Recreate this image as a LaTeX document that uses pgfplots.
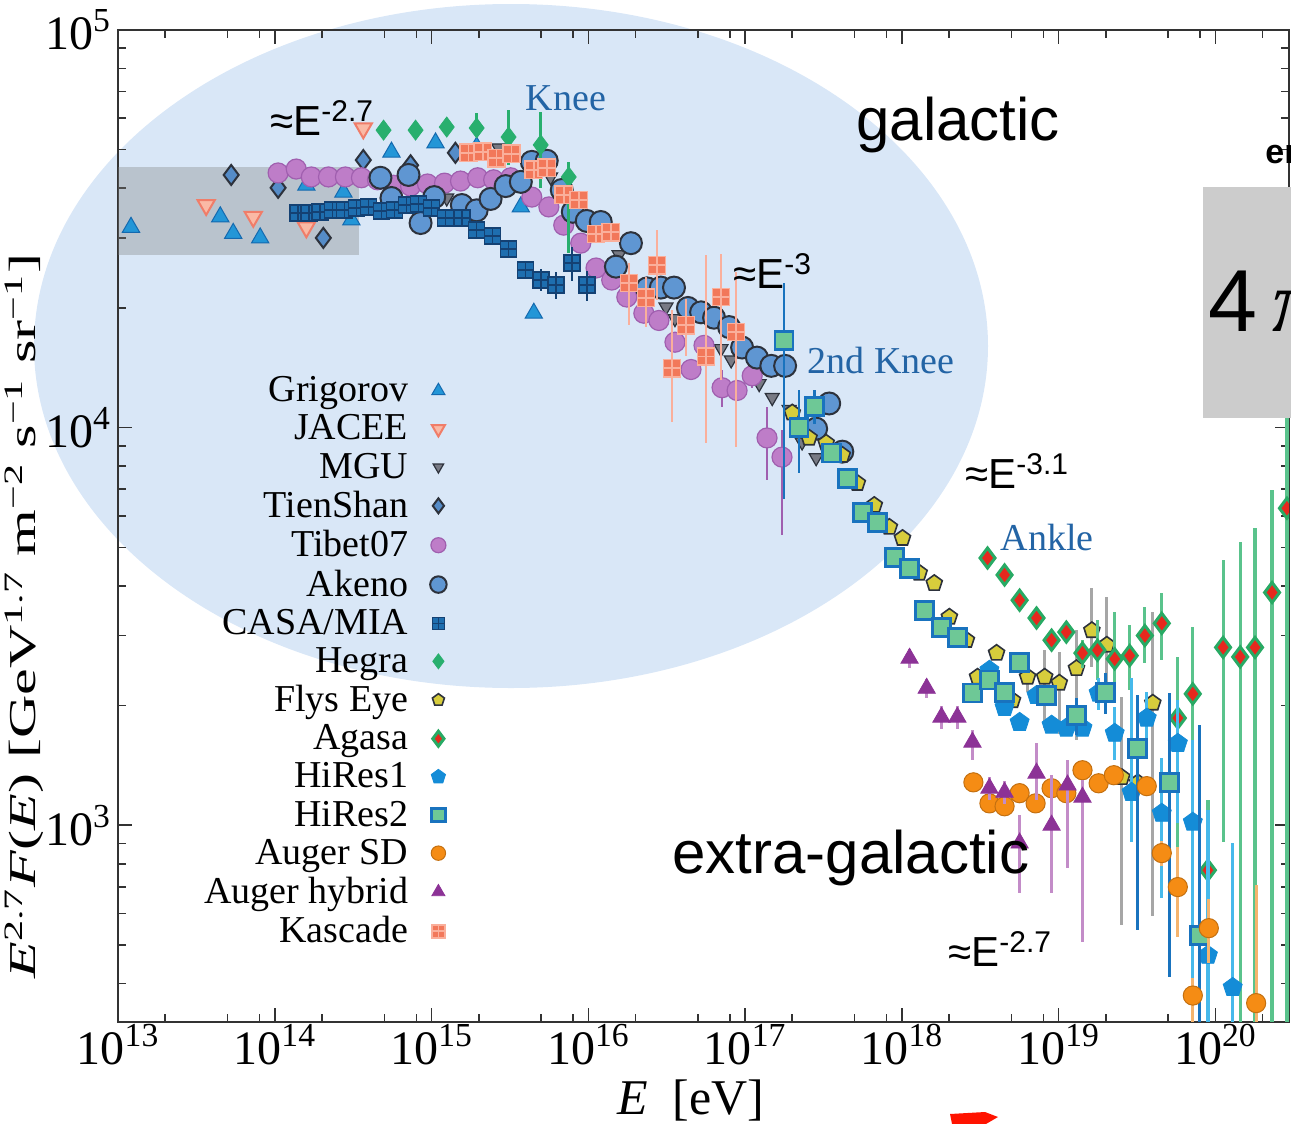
\documentclass[border=0pt]{standalone}
\usepackage{fontspec}
\setmainfont{Liberation Serif}
\newfontfamily\hv{Liberation Sans}
\usepackage{pgfplots}
\pgfplotsset{compat=1.18}

\definecolor{ellblue}{RGB}{217,231,247}
\definecolor{kneeblue}{RGB}{35,100,165}
\definecolor{cGri}{RGB}{35,150,215}
\definecolor{cGriD}{RGB}{20,105,175}
\definecolor{cJac}{RGB}{240,125,105}
\definecolor{cJacF}{RGB}{250,185,165}
\definecolor{cMgu}{RGB}{120,122,132}
\definecolor{cDark}{RGB}{45,50,60}
\definecolor{cTien}{RGB}{85,140,200}
\definecolor{cTib}{RGB}{190,125,200}
\definecolor{cTibD}{RGB}{160,95,175}
\definecolor{cAke}{RGB}{95,150,210}
\definecolor{cCasa}{RGB}{30,110,175}
\definecolor{cCasaD}{RGB}{20,65,115}
\definecolor{cHeg}{RGB}{40,175,110}
\definecolor{cFly}{RGB}{215,205,60}
\definecolor{cAgaR}{RGB}{230,40,30}
\definecolor{cAgaG}{RGB}{40,170,100}
\definecolor{cAgaBar}{RGB}{90,195,140}
\definecolor{cHr1}{RGB}{20,140,215}
\definecolor{cHr1Bar}{RGB}{70,185,235}
\definecolor{cHr2F}{RGB}{110,200,150}
\definecolor{cHr2}{RGB}{25,115,190}
\definecolor{cAsd}{RGB}{245,140,20}
\definecolor{cAsdBar}{RGB}{245,180,110}
\definecolor{cAhy}{RGB}{140,50,150}
\definecolor{cAhyBar}{RGB}{195,140,200}
\definecolor{cKas}{RGB}{242,120,90}
\definecolor{cKasL}{RGB}{250,175,155}

\pgfdeclareplotmark{gridsq}{%
  \pgfpathrectangle{\pgfpoint{-\pgfplotmarksize}{-\pgfplotmarksize}}{\pgfpoint{2\pgfplotmarksize}{2\pgfplotmarksize}}%
  \pgfusepath{fill,stroke}%
  \pgfpathmoveto{\pgfpoint{0pt}{-\pgfplotmarksize}}%
  \pgfpathlineto{\pgfpoint{0pt}{\pgfplotmarksize}}%
  \pgfpathmoveto{\pgfpoint{-\pgfplotmarksize}{0pt}}%
  \pgfpathlineto{\pgfpoint{\pgfplotmarksize}{0pt}}%
  \pgfusepath{stroke}%
}

\begin{document}
\begin{tikzpicture}
\begin{scope}[x=0.5pt,y=-0.5pt]
\path (0,0) rectangle (1291,1124);
\fill[ellblue] (511,346) ellipse [x radius=477, y radius=342];
\end{scope}

\begin{axis}[
  at={(59pt,-511pt)}, anchor=south west,
  scale only axis, width=585.5pt, height=496pt,
  xmode=log, ymode=log,
  xmin=1e13, xmax=2.95e20, ymin=320, ymax=1e5,
  clip marker paths=true, clip bounding box=upper bound,
  axis line style={line width=1pt, black!80},
  every tick/.style={line width=0.8pt, black!80},
  tick align=inside,
  major tick length=7pt, minor tick length=4pt,
  xtick={1e13,1e14,1e15,1e16,1e17,1e18,1e19,1e20},
  xticklabels={10\textsuperscript{13},10\textsuperscript{14},10\textsuperscript{15},10\textsuperscript{16},10\textsuperscript{17},10\textsuperscript{18},10\textsuperscript{19},10\textsuperscript{20}},
  minor xtick={2e13,5e13,8e13,2e14,5e14,8e14,2e15,5e15,8e15,2e16,5e16,8e16,2e17,5e17,8e17,2e18,5e18,8e18,2e19,5e19,8e19,2e20},
  ytick={1e3,1e4,1e5},
  yticklabels={10\textsuperscript{3},10\textsuperscript{4},10\textsuperscript{5}},
  minor ytick={400,500,600,700,800,900,2000,3000,4000,5000,6000,7000,8000,9000,20000,30000,40000,50000,60000,70000,80000,90000},
  tick label style={font=\fontsize{24}{24}\selectfont},
  xticklabel style={inner sep=1pt},
  legend style={at={(0.2861,0.659)}, anchor=north east, draw=none, fill=none,
    font=\fontsize{19}{19}\selectfont, row sep=1.0pt,
    /tikz/every odd column/.append style={column sep=9pt}},
  legend cell align=right, legend plot pos=right,
  legend image post style={scale=0.75},
]
\fill[gray, opacity=0.35] (axis cs:1e13,27200) rectangle (axis cs:3.42e14,45200);

\addplot[only marks, mark=triangle*, mark size=5pt, mark options={fill=cGri, draw=cGriD, line width=0.5pt}] coordinates {
(1.21e13,31900) (4.49e13,33900) (5.43e13,30800) (8.07e13,30000) (1.59e14,40700) (2.74e14,39100) (3.08e14,33300) (5.55e14,49300) (1.06e15,52000) (1.94e15,50800) (3.71e15,35900) (4.49e15,19400)
};
\addlegendentry{Grigorov}
\addplot[only marks, mark=triangle*, mark size=5pt, mark options={rotate=180, fill=cJacF, draw=cJac, line width=1pt}] coordinates {
(3.65e13,36300) (7.29e13,33900) (1.59e14,31900) (3.67e14,56600)
};
\addlegendentry{JACEE}
\addplot[only marks, mark=triangle*, mark size=4pt, mark options={rotate=180, fill=cMgu, draw=cDark, line width=0.6pt}] coordinates {
(1.25e15,37800) (2.68e15,50500) (5.75e15,42700) (1.57e16,27200) (3.13e16,20100) (3.57e16,18800) (7.03e16,15800) (8.15e16,14800) (1.23e17,12900) (1.49e17,11900) (1.91e17,11100) (2.31e17,9200) (2.84e17,8400)
};
\addlegendentry{MGU}
\addplot[only marks, mark=diamond*, mark size=5pt, mark options={fill=cTien, draw=cDark, line width=1pt}] coordinates {
(5.27e13,43200) (1.05e14,40100) (2.04e14,30000) (3.67e14,47100) (7.35e14,45700) (1.42e15,49100)
};
\addlegendentry{TienShan}
\addplot[only marks, mark=*, mark size=5pt, mark options={fill=cTib, draw=cTibD, line width=0.6pt},
  error bars/.cd, y dir=both, y explicit, error mark=none, error bar style={line width=1.2pt, color=cTibD}] coordinates {
(1.05e14,43700) (1.37e14,44700) (1.71e14,42700) (2.20e14,42700) (2.82e14,42700) (3.57e14,42500) (4.52e14,42000) (5.71e14,40700) (7.35e14,40500) (9.42e14,41000) (1.21e15,41200) (1.53e15,41700) (1.97e15,42500) (2.49e15,42000) (3.20e15,42500) (4.36e15,38000) (5.60e15,35900) (6.97e15,32300) (8.95e15,29100) (1.12e16,25200) (1.41e16,23500) (1.76e16,21300) (2.26e16,19400) (2.82e16,18600) (3.57e16,16400) (4.52e16,14000) (5.47e16,16100) (7.13e16,12600) +=(0,1400) -=(0,1300) (8.89e16,12400) (1.11e17,13500) +=(0,900) -=(0,900) (1.38e17,9420) +=(0,1850) -=(0,2040) (1.72e17,8430) +=(0,1450) -=(0,3060)
};
\addlegendentry{Tibet07}
\addplot[only marks, mark=*, mark size=5.5pt, mark options={fill=cAke, draw=cDark, line width=1pt}] coordinates {
(4.72e14,42500) (5.55e14,37800) (7.13e14,43200) (8.51e14,32700) (1.04e15,38000) (1.56e15,36300) (1.94e15,35200) (2.38e15,37600) (2.97e15,40500) (3.71e15,41500) (4.36e15,46600) (5.43e15,46900) (6.77e15,39600) (7.96e15,34900) (9.77e15,33100) (1.20e16,32900) (1.50e16,25400) (1.87e16,29100) (2.37e16,22400) (2.90e16,22500) (3.52e16,22500) (4.32e16,20000) (5.24e16,19500) (6.34e16,18900) (7.91e16,17900) (9.57e16,15900) (1.19e17,15000) (1.47e17,14300) (1.80e17,14300) (2.84e17,9940) (3.44e17,11500) (4.17e17,8700)
};
\addlegendentry{Akeno}
\addplot[only marks, mark=gridsq, mark size=4pt, mark options={fill=cCasa, draw=cCasaD, line width=0.8pt},
  error bars/.cd, y dir=both, y explicit, error mark=none, error bar style={line width=1pt, color=cCasaD}] coordinates {
(1.41e14,34600) (1.66e14,34600) (1.95e14,34900) (2.33e14,35300) (2.78e14,35300) (3.33e14,35700) (3.97e14,35900) (4.80e14,35100) (5.80e14,35300) (6.92e14,36300) (8.27e14,36500) (1.00e15,35700) (1.23e15,33700) (1.56e15,33700) (1.94e15,31400) (2.45e15,30300) (3.10e15,28100) (3.98e15,24900) (4.97e15,23500) +=(0,1500) -=(0,1500) (6.21e15,22800) +=(0,1800) -=(0,1800) (7.84e15,25900) +=(0,2500) -=(0,2500) (9.77e15,22800) +=(0,2000) -=(0,2000)
};
\addlegendentry{CASA/MIA}
\addplot[only marks, mark=diamond*, mark size=5pt, mark options={fill=cHeg, draw=cHeg},
  error bars/.cd, y dir=both, y explicit, error mark=none, error bar style={line width=1.4pt, color=cHeg}] coordinates {
(4.94e14,56000) (7.91e14,56000) (1.25e15,57000) +=(0,3000) -=(0,3000) (1.94e15,56700) +=(0,5100) -=(0,3000) (3.10e15,53800) +=(0,9100) -=(0,8100) (4.97e15,51400) +=(0,10800) -=(0,11300) (7.50e15,42700) +=(0,3900) -=(0,15200)
};
\addlegendentry{Hegra}
\addplot[only marks, mark=pentagon*, mark size=4.2pt, mark options={fill=cFly, draw=cDark, line width=0.8pt},
  error bars/.cd, y dir=both, y explicit, error mark=none, error bar style={line width=1.4pt, color=gray!70}] coordinates {
(2.00e17,10900) (2.56e17,9420) (3.29e17,9150) (4.17e17,8530) (5.20e17,7250) (6.67e17,6380) (8.32e17,5620) (1.01e18,5270) (1.29e18,4310) (1.61e18,4060) (2.01e18,3340) (2.58e18,2920) (3.04e18,2360) (4.02e18,2710) (5.08e18,2060) (6.34e18,2360) +=(0,200) -=(0,200) (8.15e18,2360) +=(0,400) -=(0,600) (1.01e19,2280) +=(0,440) -=(0,580) (1.30e19,2480) +=(0,610) -=(0,840) (1.63e19,3090) +=(0,860) -=(0,590) (2.03e19,2840) +=(0,910) -=(0,740) (2.53e19,1320) +=(0,780) -=(0,760) (3.20e19,1280) +=(0,780) -=(0,728) (3.99e19,2030) +=(0,1400) -=(0,1440)
};
\addlegendentry{Flys Eye}
\addplot[only marks, mark=diamond*, mark size=5pt, mark options={fill=cAgaR, draw=cAgaG, line width=1.5pt},
  error bars/.cd, y dir=both, y explicit, error mark=none, error bar style={line width=1.6pt, color=cAgaBar}] coordinates {
(3.52e18,4700) (4.52e18,4260) (5.64e18,3680) (7.23e18,3320) (9.02e18,2920) (1.12e19,3060) (1.42e19,2710) +=(0,210) -=(0,230) (1.77e19,2755) +=(0,525) -=(0,440) (2.28e19,2620) +=(0,816) -=(0,558) (2.84e19,2670) +=(0,514) -=(0,485) (3.55e19,3000) +=(0,546) -=(0,440) (4.55e19,3220) +=(0,617) -=(0,620) (5.76e19,1860) +=(0,790) -=(0,995) (7.18e19,2140) +=(0,1010) -=(0,1050) (8.96e19,771) +=(0,385) -=(0,471) (1.12e20,2800) +=(0,1840) -=(0,1894) (1.44e20,2650) +=(0,2500) -=(0,2350) (1.79e20,2800) +=(0,2780) -=(0,2500) (2.30e20,3850) +=(0,3115) -=(0,3550) (2.86e20,6270) +=(0,5430) -=(0,5970)
};
\addlegendentry{Agasa}
\addplot[only marks, mark=pentagon*, mark size=5pt, mark options={fill=cHr1, draw=cHr1},
  error bars/.cd, y dir=both, y explicit, error mark=none, error bar style={line width=1.6pt, color=cHr1Bar}] coordinates {
(3.62e18,2454) (4.52e18,1980) (5.64e18,1815) (7.23e18,2120) (9.02e18,1786) (1.12e19,1756) (1.42e19,1756) (1.80e19,2150) +=(0,200) -=(0,200) (2.28e19,1704) +=(0,276) -=(0,247) (2.92e19,1210) +=(0,1134) -=(0,304) (3.65e19,1860) +=(0,300) -=(0,300) (4.55e19,1072) +=(0,404) -=(0,417) (5.76e19,1607) +=(0,455) -=(0,595) (7.18e19,1018) +=(0,618) -=(0,689) (8.96e19,471) +=(0,620) -=(0,171) (1.29e20,391) +=(0,511) -=(0,91)
};
\addlegendentry{HiRes1}
\addplot[only marks, mark=square*, mark size=4.5pt, mark options={fill=cHr2F, draw=cHr2, line width=1.4pt},
  error bars/.cd, y dir=both, y explicit, error mark=none, error bar style={line width=1.4pt, color=cHr2}] coordinates {
(1.77e17,16600) +=(0,6500) -=(0,10000) (2.21e17,10000) +=(0,2430) -=(0,2310) (2.76e17,11300) +=(0,1100) -=(0,1100) (3.55e17,8630) (4.49e17,7460) (5.60e17,6130) (6.97e17,5780) (8.96e17,4720) (1.12e18,4430) (1.39e18,3470) (1.79e18,3150) (2.26e18,2970) (2.82e18,2150) (3.62e18,2320) (4.52e18,2160) (5.64e18,2570) (8.38e18,2120) (1.30e19,1890) +=(0,200) -=(0,200) (2.00e19,2160) +=(0,250) -=(0,250) (3.20e19,1560) +=(0,560) -=(0,1015) (5.12e19,1280) +=(0,870) -=(0,865) (7.96e19,528) +=(0,1258) -=(0,228)
};
\addlegendentry{HiRes2}
\addplot[only marks, mark=*, mark size=4.8pt, mark options={fill=cAsd, draw=cAsd!80!black, line width=0.5pt},
  error bars/.cd, y dir=both, y explicit, error mark=none, error bar style={line width=1.4pt, color=cAsdBar}] coordinates {
(2.86e18,1282) (3.62e18,1135) (4.52e18,1116) (5.64e18,1204) (7.13e18,1135) (9.02e18,1239) (1.12e19,1204) (1.42e19,1375) (1.80e19,1275) (2.25e19,1336) (3.65e19,1254) (4.55e19,851) +=(0,60) -=(0,60) (5.76e19,699) +=(0,182) -=(0,176) (7.18e19,373) +=(0,40) -=(0,73) (9.08e19,551) +=(0,100) -=(0,100) (1.82e20,357) +=(0,349) -=(0,57)
};
\addlegendentry{Auger SD}
\addplot[only marks, mark=triangle*, mark size=5pt, mark options={fill=cAhy, draw=cAhy},
  error bars/.cd, y dir=both, y explicit, error mark=none, error bar style={line width=1.4pt, color=cAhyBar}] coordinates {
(1.12e18,2630) +=(0,150) -=(0,150) (1.44e18,2210) +=(0,120) -=(0,120) (1.79e18,1870) +=(0,120) -=(0,120) (2.26e18,1870) +=(0,120) -=(0,120) (2.82e18,1618) +=(0,115) -=(0,160) (3.62e18,1239) +=(0,80) -=(0,80) (4.52e18,1210) +=(0,80) -=(0,80) (5.64e18,902) +=(0,158) -=(0,227) (7.23e18,1352) +=(0,256) -=(0,196) (9.02e18,1000) +=(0,336) -=(0,325) (1.14e19,1262) +=(0,195) -=(0,482) (1.42e19,1176) +=(0,121) -=(0,668)
};
\addlegendentry{Auger hybrid}
\addplot[only marks, mark=gridsq, mark size=4.3pt, mark options={fill=cKas, draw=cKasL, line width=0.8pt},
  error bars/.cd, y dir=both, y explicit, error mark=none, error bar style={line width=1.3pt, color=cKasL}] coordinates {
(1.72e15,49100) (2.12e15,49400) (2.60e15,47600) (3.24e15,48800) (4.49e15,44500) (5.43e15,45000) (6.97e15,38500) (8.69e15,37350) (1.12e16,30700) (1.39e16,31000) (1.82e16,23100) +=(0,2800) -=(0,5000) (2.33e16,21200) +=(0,2700) -=(0,3300) (2.74e16,25600) +=(0,5800) -=(0,4700) (3.42e16,14100) +=(0,5650) -=(0,3770) (4.20e16,18100) +=(0,3000) -=(0,3000) (5.64e16,15100) +=(0,12100) -=(0,5960) (7.03e16,21300) +=(0,6100) -=(0,8130) (8.75e16,17400) +=(0,7200) -=(0,8480)
};
\addlegendentry{Kascade}
\end{axis}

\begin{scope}[x=0.5pt,y=-0.5pt]
\node[overlay, rotate=90, inner sep=0pt, font=\fontsize{19}{19}\selectfont] at (24,616)
  {\scalebox{1.58}[1]{\textit{E}\textsuperscript{2.7}\textit{F}(\textit{E}) [GeV\textsuperscript{1.7} m\textsuperscript{−2} s\textsuperscript{−1} sr\textsuperscript{−1}]}};
\node[overlay, inner sep=0pt, font=\fontsize{25}{25}\selectfont, anchor=base] at (691,1114) {\textit{E}\ \ [eV]};
\node[font=\fontsize{19}{19}\selectfont, text=kneeblue] at (566,98) {Knee};
\node[font=\fontsize{19}{19}\selectfont, text=kneeblue] at (881,360) {2nd Knee};
\node[font=\fontsize{19}{19}\selectfont, text=kneeblue] at (1047,537) {Ankle};
\node[anchor=base west, inner sep=0pt, font=\hv\fontsize{21}{21}\selectfont] at (270,135) {≈E\raisebox{7pt}{\fontsize{15}{15}\selectfont -2.7}};
\node[anchor=base west, inner sep=0pt, font=\hv\fontsize{21}{21}\selectfont] at (733,288) {≈E\raisebox{7pt}{\fontsize{15}{15}\selectfont -3}};
\node[anchor=base west, inner sep=0pt, font=\hv\fontsize{21}{21}\selectfont] at (965,488) {≈E\raisebox{7pt}{\fontsize{15}{15}\selectfont -3.1}};
\node[anchor=base west, inner sep=0pt, font=\hv\fontsize{21}{21}\selectfont] at (948,966) {≈E\raisebox{7pt}{\fontsize{15}{15}\selectfont -2.7}};
\node[anchor=base west, inner sep=0pt, font=\hv\fontsize{30}{30}\selectfont] at (856,140) {galactic};
\node[anchor=base west, inner sep=0pt, font=\hv\fontsize{30}{30}\selectfont] at (672,873) {extra-galactic};
\node[overlay, anchor=base west, inner sep=0pt, font=\hv\bfseries\fontsize{17}{17}\selectfont] at (1265,163) {en};
\fill[overlay, gray!40] (1203,187) rectangle (1320,418);
\node[overlay, anchor=base west, inner sep=0pt, font=\hv\fontsize{44}{44}\selectfont] at (1208,331) {4\,{\rmfamily\itshape π}};
\fill[overlay, red!85!orange] (950,1114) -- (985,1112) -- (998,1117) -- (986,1124) -- (952,1124) -- cycle;
\end{scope}
\end{tikzpicture}
\end{document}
